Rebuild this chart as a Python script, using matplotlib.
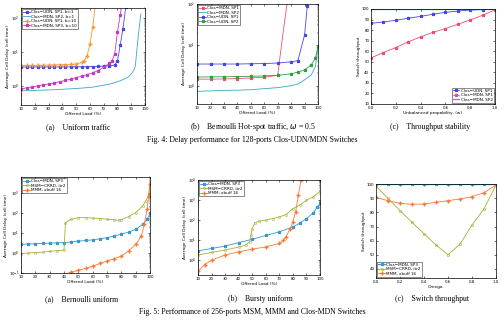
import numpy as np
import matplotlib.pyplot as plt

# ---- Fig 4 (a) uniform traffic ----
a_udn1_x = [10, 14, 18, 22, 26, 30, 34, 38, 42, 46, 50, 54, 58, 62, 66, 70, 74, 78, 80, 82, 84, 86]
a_udn1_y = [3.7, 3.7, 3.7, 3.7, 3.7, 3.7, 3.7, 3.7, 3.72, 3.72, 3.75, 3.75, 3.78, 3.8, 3.85, 3.9, 4.0, 4.2, 5.6, 16, 50, 210]
a_mdn2_x = [10, 14, 18, 22, 26, 30, 34, 38, 42, 46, 50, 54, 58, 62, 66, 70, 74, 78, 82, 86, 88, 90, 92, 93, 95, 97]
a_mdn2_y = [0.73, 0.74, 0.75, 0.76, 0.77, 0.78, 0.79, 0.8, 0.82, 0.84, 0.86, 0.88, 0.91, 0.94, 1.0, 1.07, 1.15, 1.28, 1.45, 1.7, 1.9, 2.3, 3.0, 4.0, 28, 135]
a_udn10_x = [10, 14, 18, 22, 26, 30, 34, 38, 42, 46, 50, 54, 56, 58, 60, 62, 64]
a_udn10_y = [4.1, 4.1, 4.1, 4.1, 4.15, 4.2, 4.25, 4.3, 4.35, 4.4, 4.5, 5.0, 5.7, 8, 17.6, 54, 250]
a_mdn3_x = [10, 14, 18, 22, 26, 30, 34, 38, 42, 46, 50, 54, 58, 62, 66, 70, 74, 76, 78, 80, 82, 83]
a_mdn3_y = [0.83, 0.9, 0.95, 1.02, 1.1, 1.17, 1.25, 1.35, 1.48, 1.62, 1.8, 1.98, 2.2, 2.5, 2.9, 3.6, 4.7, 5.5, 9, 39, 122, 250]

# ---- Fig 4 (b) hot-spot ----
b_mdn1_x = [10, 20, 30, 40, 50, 60, 70, 72, 74, 76, 78]
b_mdn1_y = [1.45, 1.45, 1.47, 1.5, 1.55, 1.62, 1.8, 6, 20, 60, 200]
b_mdn2_x = [10, 20, 30, 40, 50, 60, 70, 80, 85, 90, 95, 98, 100]
b_mdn2_y = [0.73, 0.75, 0.77, 0.78, 0.8, 0.85, 0.9, 1.0, 1.1, 1.4, 1.85, 2.95, 9]
b_udn1_x = [10, 20, 30, 40, 50, 60, 70, 80, 85, 90, 92, 93]
b_udn1_y = [3.4, 3.4, 3.4, 3.4, 3.45, 3.5, 3.6, 3.85, 4.1, 17.5, 89, 200]
b_udn2_x = [10, 20, 30, 40, 50, 60, 70, 80, 85, 90, 95, 98, 100]
b_udn2_y = [1.63, 1.65, 1.66, 1.68, 1.7, 1.74, 1.8, 1.96, 2.15, 2.45, 3.25, 4.7, 9.1]

# ---- Fig 4 (c) throughput stability ----
c_w = [0, 0.1, 0.2, 0.3, 0.4, 0.5, 0.6, 0.7, 0.8, 0.9, 1.0]
c_udn1 = [86.4, 87.7, 89.3, 91.2, 93.0, 95.0, 96.8, 98.0, 99.0, 99.4, 99.7]
c_mdn1 = [53.6, 58.7, 63.4, 68.8, 73.5, 77.9, 81.4, 85.5, 89.6, 94.0, 99.0]
c_mdn2 = [99.9, 99.9, 99.9, 99.9, 99.9, 99.9, 99.9, 99.9, 99.9, 99.9, 99.9]

# ---- Fig 5 (a) bernoulli uniform ----
d_mdn3_x = [10, 15, 20, 25, 30, 35, 40, 45, 50, 55, 60, 65, 70, 75, 80, 85, 90, 95, 98, 100]
d_mdn3_y = [2.7, 2.8, 2.9, 3.0, 3.1, 3.2, 3.3, 3.6, 3.9, 4.2, 4.5, 5.1, 5.8, 7.0, 8.6, 11, 15, 27, 48, 93]
d_msm_x = [10, 15, 20, 25, 30, 35, 40, 41, 45, 50, 55, 60, 65, 70, 75, 78, 80, 85, 90, 95, 97, 99, 100]
d_msm_y = [0.93, 1.0, 1.05, 1.1, 1.2, 1.3, 1.4, 33, 48, 58, 58, 55, 52, 48, 45, 43, 46, 65, 104, 225, 400, 710, 2700]
d_mmm_x = [40, 45, 50, 55, 60, 65, 70, 75, 80, 85, 90, 94, 96, 98, 99, 100]
d_mmm_y = [0.086, 0.11, 0.136, 0.17, 0.22, 0.3, 0.4, 0.52, 0.7, 1.26, 2.7, 7, 27, 150, 700, 2700]

# ---- Fig 5 (b) bursty uniform ----
e_mdn3_x = [10, 20, 30, 40, 50, 60, 70, 80, 85, 90, 95, 98, 100]
e_mdn3_y = [2.9, 3.8, 5.0, 7.5, 11, 17, 26, 46, 70, 120, 230, 460, 680]
e_msm_x = [10, 20, 30, 40, 45, 48, 49, 50, 52, 55, 60, 65, 70, 75, 80, 85, 90, 95, 100]
e_msm_y = [1.8, 2.4, 3.2, 4.5, 5.6, 8.3, 18, 38, 73, 90, 100, 120, 146, 190, 380, 560, 1000, 1450, 2800]
e_mmm_x = [10, 15, 20, 30, 40, 50, 60, 70, 73, 75, 78, 80, 82, 84, 86]
e_mmm_y = [0.28, 0.6, 1.0, 1.8, 2.6, 3.5, 4.6, 6.8, 10, 15, 38, 82, 260, 1800, 10000]

# ---- Fig 5 (c) switch throughput ----
f_w = [0, 0.1, 0.2, 0.3, 0.4, 0.5, 0.6, 0.7, 0.8, 0.9, 1.0]
f_mdn3 = [99.9, 99.9, 99.9, 99.9, 99.9, 99.9, 99.9, 99.9, 99.9, 99.9, 99.9]
f_msm = [98.5, 90.0, 81.3, 73.0, 64.9, 56.9, 50.0, 57.5, 71.0, 82.4, 99.3]
f_mmm = [90.6, 88.3, 86.4, 85.7, 86.0, 87.1, 88.3, 89.5, 91.1, 93.9, 99.3]

BLUE = '#4848e0'
CYAN = '#38a8c8'
ORANGE = '#f89830'
MAGENTA = '#c838c8'
RED = '#f05070'
GREEN = '#30a040'
SBLUE = '#3898d0'
OLIVE = '#a8b030'
SORANGE = '#f87838'

TS = 2.8
LS = 3.1
lw = 0.6
ms = 2.2

fig = plt.figure(figsize=(5.04, 3.33), dpi=100)

def style(ax, xlabel, ylabel):
    ax.tick_params(direction='in', labelsize=TS, length=1.5, width=0.4, pad=1.2,
                   top=True, right=True)
    ax.tick_params(which='minor', direction='in', length=0.8, width=0.3,
                   top=True, right=True)
    for s in ax.spines.values():
        s.set_linewidth(0.5)
    ax.set_xlabel(xlabel, fontsize=LS, labelpad=0.8)
    ax.set_ylabel(ylabel, fontsize=LS, labelpad=0.5)

def leg(ax, loc):
    ax.legend(loc=loc, fontsize=3.0, frameon=True, fancybox=False, edgecolor='black',
              borderpad=0.25, handlelength=1.6, labelspacing=0.12, borderaxespad=0.3,
              handletextpad=0.3).get_frame().set_linewidth(0.4)

# top (a)
ax = fig.add_axes([0.0417, 0.6847, 0.246, 0.291])
ax.semilogy(a_udn1_x, a_udn1_y, '-*', color=BLUE, lw=lw, ms=ms, label='Clos\u2212UDN, SP1, b=1')
ax.semilogy(a_mdn2_x, a_mdn2_y, '-.', color=CYAN, lw=lw, ms=ms, linestyle='-', label='Clos\u2212MDN, SP2, b=1')
ax.semilogy(a_udn10_x, a_udn10_y, '-+', color=ORANGE, lw=lw, ms=ms, label='Clos\u2212UDN, SP1, b=10')
ax.semilogy(a_mdn3_x, a_mdn3_y, '-*', color=MAGENTA, lw=lw, ms=ms, label='Clos\u2212MDN, SP3, b=10')
ax.set_xlim(10, 100)
ax.set_ylim(0.28, 200)
ax.set_xticks(range(10, 101, 10))
ax.set_yticks([1, 10, 100])
style(ax, 'Offered Load (%)', 'Average Cell Delay (cell time)')
leg(ax, 'upper left')

# top (b)
ax = fig.add_axes([0.391, 0.688, 0.240, 0.300])
ax.semilogy(b_mdn1_x, b_mdn1_y, '-*', color=RED, lw=lw, ms=ms, markevery=list(range(7)), label='Clos\u2212MDN, SP1')
ax.semilogy(b_mdn2_x, b_mdn2_y, '-.', color=CYAN, lw=lw, ms=ms, linestyle='-', label='Clos\u2212MDN, SP2')
ax.semilogy(b_udn1_x, b_udn1_y, '-*', color=BLUE, lw=lw, ms=ms, label='Clos\u2212UDN, SP1')
ax.semilogy(b_udn2_x, b_udn2_y, '-*', color=GREEN, lw=lw, ms=ms, label='Clos\u2212UDN, SP2')
ax.set_xlim(10, 100)
ax.set_ylim(0.36, 100)
ax.set_xticks(range(10, 101, 10))
ax.set_yticks([1, 10, 100])
style(ax, 'Offered Load (%)', 'Average Cell Delay (cell time)')
leg(ax, 'upper left')

# top (c)
ax = fig.add_axes([0.736, 0.688, 0.246, 0.285])
ax.plot(c_w, c_udn1, '-*', color=BLUE, lw=lw, ms=ms, label='Clos\u2212UDN, SP1')
ax.plot(c_w, c_mdn1, '-*', color=RED, lw=lw, ms=ms, label='Clos\u2212MDN, SP1')
ax.plot(c_w, c_mdn2, '-.', color=CYAN, lw=lw*1.5, ms=ms, linestyle='-', label='Clos\u2212MDN, SP2')
ax.set_xlim(0, 1)
ax.set_ylim(10, 100)
ax.set_xticks(np.arange(0, 1.01, 0.2))
ax.set_yticks(range(10, 101, 10))
style(ax, 'Unbalanced propability, (w)', 'Switch throughput')
leg(ax, 'lower right')

# bottom (a)
ax = fig.add_axes([0.0417, 0.180, 0.256, 0.288])
ax.semilogy(d_mdn3_x, d_mdn3_y, '-*', color=SBLUE, lw=lw, ms=ms, label='Clos\u2212MDN, SP3')
ax.semilogy(d_msm_x, d_msm_y, '-o', color=OLIVE, lw=lw, ms=ms * 0.7, mfc='none', mew=0.4, label='MSM\u2212CRRD, itr2')
ax.semilogy(d_mmm_x, d_mmm_y, '-+', color=SORANGE, lw=lw, ms=ms, label='MMM, xbuff 16')
ax.set_xlim(10, 100)
ax.set_ylim(0.1, 6000)
ax.set_xticks(range(10, 101, 10))
ax.set_yticks([0.1, 1, 10, 100, 1000])
style(ax, 'Offered Load (%)', 'Average Cell Delay (cell time)')
leg(ax, 'upper left')

# bottom (b)
ax = fig.add_axes([0.393, 0.174, 0.242, 0.285])
ax.semilogy(e_mdn3_x, e_mdn3_y, '-*', color=SBLUE, lw=lw, ms=ms, label='Clos\u2212MDN, SP3')
ax.semilogy(e_msm_x, e_msm_y, '-o', color=OLIVE, lw=lw, ms=ms * 0.7, mfc='none', mew=0.4, label='MSM\u2212CRRD, itr2')
ax.semilogy(e_mmm_x, e_mmm_y, '-+', color=SORANGE, lw=lw, ms=ms, label='MMM, xbuff 16')
ax.set_xlim(10, 100)
ax.set_ylim(0.178, 10000)
ax.set_xticks(range(10, 101, 10))
ax.set_yticks([1, 10, 100, 1000, 10000])
style(ax, 'Offered Load (%)', 'Average Cell Delay (cell time)')
leg(ax, 'upper left')

# bottom (c)
ax = fig.add_axes([0.746, 0.165, 0.238, 0.282])
ax.plot(f_w, f_mdn3, '-*', color=SBLUE, lw=lw * 1.5, ms=ms, label='Clos\u2212MDN, SP3')
ax.plot(f_w, f_msm, '-o', color=OLIVE, lw=lw, ms=ms * 0.8, mfc='none', mew=0.4, label='MSM\u2212CRRD, itr2')
ax.plot(f_w, f_mmm, '-+', color=SORANGE, lw=lw, ms=ms, label='MMM, xbuff 16')
ax.set_xlim(0, 1)
ax.set_ylim(33.5, 100)
ax.set_xticks(np.arange(0, 1.01, 0.2))
ax.set_yticks(range(40, 101, 10))
style(ax, 'Omega', 'Switch throughput')
leg(ax, 'lower left')

# captions
cap = dict(fontsize=5.6, family='Liberation Serif', va='center')
fig.text(46 / 504, 1 - 127 / 333, '(a)    Uniform traffic', **cap)
fig.text(190 / 504, 1 - 127 / 333, '(b)    Bernoulli Hot-spot traffic, $\\omega$ = 0.5', **cap)
fig.text(390 / 504, 1 - 127 / 333, '(c)    Throughput stability', **cap)
fig.text(0.5, 1 - 140 / 333, 'Fig. 4: Delay performance for 128-ports Clos-UDN/MDN Switches', ha='center', **cap)
fig.text(45 / 504, 1 - 299 / 333, '(a)    Bernoulli uniform', **cap)
fig.text(228 / 504, 1 - 299 / 333, '(b)    Bursty uniform', **cap)
fig.text(395 / 504, 1 - 299 / 333, '(c)    Switch throughput', **cap)
fig.text(0.5, 1 - 312 / 333, 'Fig. 5: Performance of 256-ports MSM, MMM and Clos-MDN Switches', ha='center', **cap)

fig.savefig('out.png', dpi=100)
